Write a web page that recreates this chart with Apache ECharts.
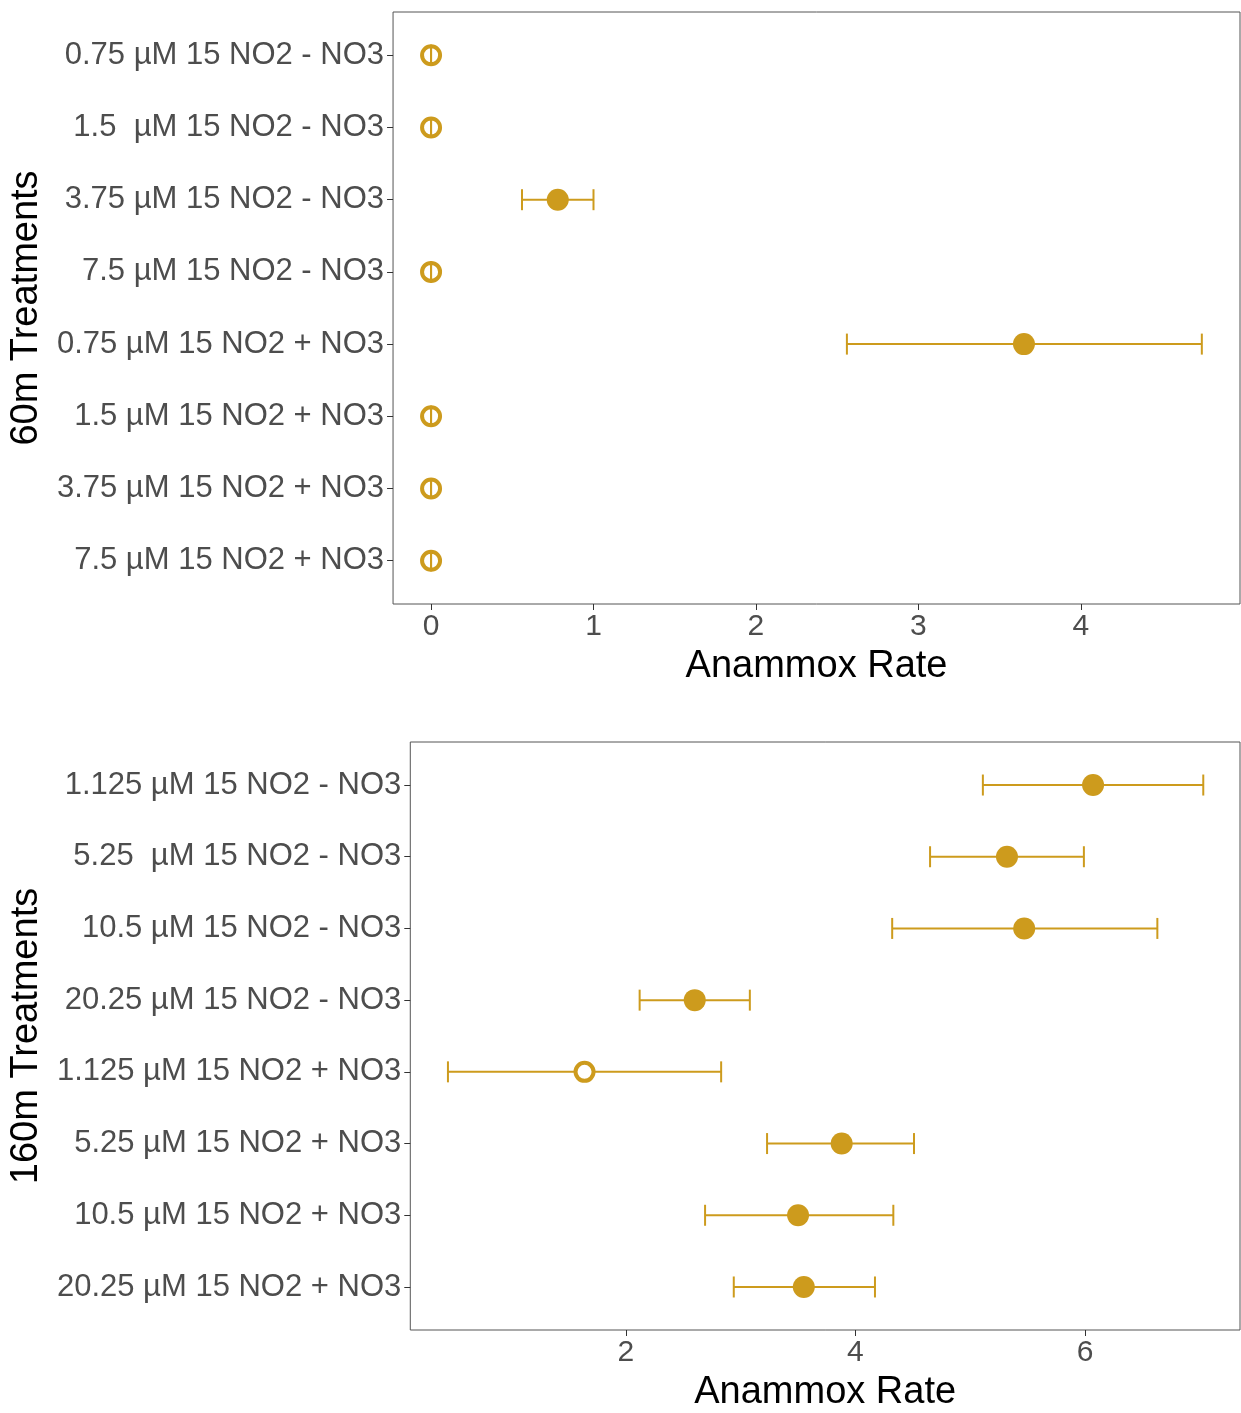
<!DOCTYPE html>
<html><head><meta charset="utf-8">
<script src="https://cdn.jsdelivr.net/npm/echarts@6/dist/echarts.min.js"></script>
<style>html,body{margin:0;padding:0;background:#fff}#c{width:1241px;height:1413px}</style>
</head><body><div id="c"></div>
<script>
// ---- 60 m panel ----
const cats60 = ['0.75 µM 15 NO2 - NO3','1.5  µM 15 NO2 - NO3','3.75 µM 15 NO2 - NO3','7.5 µM 15 NO2 - NO3',
                '0.75 µM 15 NO2 + NO3','1.5 µM 15 NO2 + NO3','3.75 µM 15 NO2 + NO3','7.5 µM 15 NO2 + NO3'];
const rate60 = [0, 0, 0.78, 0, 3.65, 0, 0, 0];
const lo60   = [0, 0, 0.56, 0, 2.56, 0, 0, 0];
const hi60   = [0, 0, 1.00, 0, 4.745, 0, 0, 0];
const sig60  = [false, false, true, false, true, false, false, false];
const xTicks60 = [0, 1, 2, 3, 4];

// ---- 160 m panel ----
const cats160 = ['1.125 µM 15 NO2 - NO3','5.25  µM 15 NO2 - NO3','10.5 µM 15 NO2 - NO3','20.25 µM 15 NO2 - NO3',
                 '1.125 µM 15 NO2 + NO3','5.25 µM 15 NO2 + NO3','10.5 µM 15 NO2 + NO3','20.25 µM 15 NO2 + NO3'];
const rate160 = [6.07, 5.32, 5.47, 2.60, 1.64, 3.88, 3.50, 3.55];
const lo160   = [5.11, 4.65, 4.32, 2.12, 0.45, 3.23, 2.69, 2.94];
const hi160   = [7.03, 5.99, 6.63, 3.08, 2.83, 4.51, 4.33, 4.17];
const sig160  = [true, true, true, true, false, true, true, true];
const xTicks160 = [2, 4, 6];

const GOLD = '#CD9B1D';
const FONT = '"Liberation Sans", Arial, sans-serif';
const TICKC = '#4D4D4D';

function errData(lo, hi){ return lo.map((l,i)=>[l, hi[i], i]); }
function ptData(r, sig, want){ return r.map((v,i)=> sig[i]===want ? [v,i] : null).filter(d=>d); }

function renderErr(params, api){
  const y = api.value(2);
  const a = api.coord([api.value(0), y]);
  const b = api.coord([api.value(1), y]);
  const h = 10.5;
  const st = {stroke: GOLD, lineWidth: 2, fill: null};
  return {type:'group', children:[
    {type:'line', shape:{x1:a[0], y1:a[1], x2:b[0], y2:b[1]}, style: st},
    {type:'line', shape:{x1:a[0], y1:a[1]-h, x2:a[0], y2:a[1]+h}, style: st},
    {type:'line', shape:{x1:b[0], y1:b[1]-h, x2:b[0], y2:b[1]+h}, style: st}
  ]};
}

function xAxis(idx, min, max, ticks){
  return {
    type:'value', gridIndex: idx, min: min, max: max, position:'bottom',
    name:'Anammox Rate', nameLocation:'middle', nameGap: 44,
    nameTextStyle:{fontSize:38, color:'#000', fontFamily:FONT},
    axisLine:{show:false, onZero:false},
    axisTick:{show:true, length:6, inside:false, customValues: ticks, lineStyle:{color:'#333', width:1}},
    axisLabel:{customValues: ticks, fontSize:30, color:TICKC, fontFamily:FONT, margin:8},
    splitLine:{show:false}
  };
}
function yAxis(idx, cats, name, gap){
  return {
    type:'value', gridIndex: idx, min:-0.6, max:7.6, inverse:true, position:'left',
    name: name, nameLocation:'middle', nameGap: gap,
    nameTextStyle:{fontSize:38, color:'#000', fontFamily:FONT},
    axisLine:{show:false, onZero:false},
    axisTick:{show:true, length:6, customValues:[0,1,2,3,4,5,6,7], lineStyle:{color:'#333', width:1}},
    axisLabel:{customValues:[0,1,2,3,4,5,6,7], fontSize:31, color:TICKC, fontFamily:FONT, margin:9,
               padding:[4,0,0,0],
               formatter: v => cats[Math.round(v)] || ''},
    splitLine:{show:false}
  };
}

const chart = echarts.init(document.getElementById('c'), null, {renderer:'canvas'});
chart.setOption({
  animation:false,
  backgroundColor:'#fff',
  grid:[
    {left:392, top:12, width:848, height:592, show:true, borderColor:'#555', borderWidth:1, backgroundColor:'#fff'},
    {left:409, top:742, width:831, height:591, show:true, borderColor:'#555', borderWidth:1, backgroundColor:'#fff'}
  ],
  xAxis:[ xAxis(0, -0.234, 4.98, xTicks60), xAxis(1, 0.122, 7.35, xTicks160) ],
  yAxis:[ yAxis(0, cats60, '60m Treatments', 338), yAxis(1, cats160, '160m Treatments', 355) ],
  series:[
    {type:'scatter', xAxisIndex:0, yAxisIndex:0, data: ptData(rate60, sig60, false), symbol:'circle', symbolSize:18,
     itemStyle:{color:'rgba(0,0,0,0)', borderColor:GOLD, borderWidth:4, opacity:1}, z:2},
    {type:'custom', xAxisIndex:0, yAxisIndex:0, renderItem: renderErr, data: errData(lo60, hi60),
     encode:{x:[0,1], y:2}, z:3},
    {type:'scatter', xAxisIndex:0, yAxisIndex:0, data: ptData(rate60, sig60, true), symbol:'circle', symbolSize:22,
     itemStyle:{color:GOLD, opacity:1}, z:4},

    {type:'custom', xAxisIndex:1, yAxisIndex:1, renderItem: renderErr, data: errData(lo160, hi160),
     encode:{x:[0,1], y:2}, z:2},
    {type:'scatter', xAxisIndex:1, yAxisIndex:1, data: ptData(rate160, sig160, true), symbol:'circle', symbolSize:22,
     itemStyle:{color:GOLD, opacity:1}, z:4},
    {type:'scatter', xAxisIndex:1, yAxisIndex:1, data: ptData(rate160, sig160, false), symbol:'circle', symbolSize:18,
     itemStyle:{color:'#fff', borderColor:GOLD, borderWidth:4, opacity:1}, z:4}
  ]
});
</script></body></html>
